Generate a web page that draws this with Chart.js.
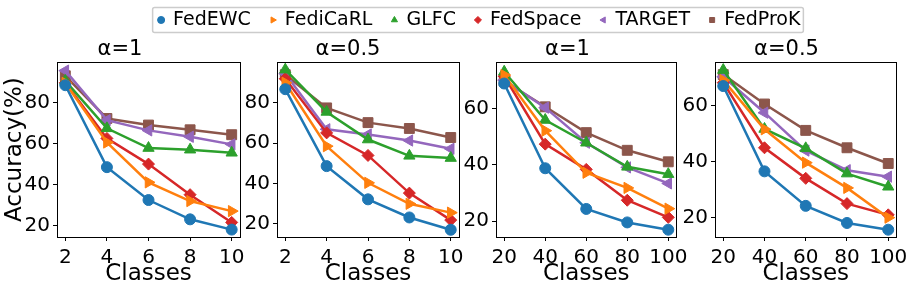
<!DOCTYPE html>
<html>
<head>
<meta charset="utf-8">
<script src="https://cdn.jsdelivr.net/npm/chart.js@4.4.1/dist/chart.umd.min.js"></script>
<style>
  body { margin: 0; background: #fff; width: 913px; height: 289px; position: relative; overflow: hidden; }
  canvas { position: absolute; }
</style>
</head>
<body>
<canvas id="legend"></canvas>
<canvas id="c1"></canvas>
<canvas id="c2"></canvas>
<canvas id="c3"></canvas>
<canvas id="c4"></canvas>
<script>
const methods = ['FedEWC', 'FediCaRL', 'GLFC', 'FedSpace', 'TARGET', 'FedProK'];
const colors = ['#1f77b4', '#ff7f0e', '#2ca02c', '#d62728', '#9467bd', '#8c564b'];
const markers = ['circle', 'triangle', 'triangle', 'rectRot', 'triangle', 'rect'];
const markerRotation = [0, 90, 0, 0, -90, 0];
const markerRadius = [5.5, 6.5, 6.5, 6, 6.5, 7];

const classes10 = [2, 4, 6, 8, 10];
const classes100 = [20, 40, 60, 80, 100];
const yTicks4 = [20, 40, 60, 80];
const yTicks3 = [20, 40, 60];
const titles = ['α=1', 'α=0.5', 'α=1', 'α=0.5'];

// panel 1: alpha=1, 10 classes
const ewc1 = [88.4, 48.5, 32.5, 23.1, 18.1];
const icarl1 = [89.5, 60.5, 41.1, 32.0, 27.1];
const glfc1 = [90.5, 67.4, 57.8, 57.0, 55.5];
const space1 = [89.6, 62.5, 50.0, 35.1, 21.6];
const target1 = [95.5, 71.4, 66.4, 63.3, 59.6];
const prok1 = [93.0, 72.2, 69.0, 66.7, 64.3];

// panel 2: alpha=0.5, 10 classes
const ewc2 = [86.8, 48.6, 32.1, 23.1, 17.0];
const icarl2 = [90.0, 58.5, 40.3, 29.9, 25.5];
const glfc2 = [96.5, 75.5, 61.8, 53.7, 52.6];
const space2 = [92.0, 65.1, 53.9, 35.2, 21.8];
const target2 = [94.5, 66.9, 64.3, 61.3, 57.2];
const prok2 = [94.0, 77.5, 70.2, 67.3, 62.8];

// panel 3: alpha=1, 100 classes
const ewc3 = [69.0, 38.8, 24.3, 19.5, 16.9];
const icarl3 = [72.0, 52.2, 37.2, 31.8, 24.4];
const glfc3 = [73.2, 56.0, 47.9, 39.3, 36.7];
const space3 = [71.6, 47.4, 38.4, 27.4, 21.3];
const target3 = [70.2, 60.4, 47.9, 39.1, 33.4];
const prok3 = [69.9, 60.7, 51.5, 45.2, 41.1];

// panel 4: alpha=0.5, 100 classes
const ewc4 = [66.9, 36.5, 24.2, 18.1, 15.7];
const icarl4 = [69.0, 51.5, 39.6, 30.6, 20.0];
const glfc4 = [72.6, 51.6, 44.7, 35.7, 31.0];
const space4 = [68.1, 44.9, 34.0, 25.0, 21.0];
const target4 = [70.2, 57.4, 43.9, 36.9, 34.6];
const prok4 = [71.0, 60.5, 51.1, 44.9, 39.3];

const FONT = 'DejaVu Sans';

const frame = {
    id: 'frame',
    afterDraw(chart) {
        const { ctx, chartArea: a } = chart;
        ctx.save();
        ctx.strokeStyle = '#000';
        ctx.lineWidth = 1;
        ctx.strokeRect(Math.round(a.left) + 0.5, Math.round(a.top) + 0.5,
            Math.round(a.right - a.left), Math.round(a.bottom - a.top));
        ctx.restore();
    }
};

function makePanel(id, p) {
    const canvas = document.getElementById(id);
    canvas.width = p.width;
    canvas.height = 259;
    canvas.style.left = p.left + 'px';
    canvas.style.top = '30px';

    new Chart(canvas, {
        type: 'line',
        data: {
            datasets: methods.map((m, i) => ({
                label: m,
                data: p.xs.map((x, j) => ({ x, y: p.series[i][j] })),
                borderColor: colors[i],
                backgroundColor: colors[i],
                borderWidth: 2.5,
                pointStyle: markers[i],
                pointRotation: markerRotation[i],
                pointRadius: markerRadius[i],
                pointBorderWidth: 1,
                pointBorderColor: colors[i],
                pointBackgroundColor: colors[i],
                tension: 0,
                clip: false,
            })),
        },
        options: {
            responsive: false,
            animation: false,
            events: [],
            layout: { padding: { left: 0, right: p.padRight, top: 0, bottom: 0 } },
            plugins: {
                legend: { display: false },
                tooltip: { enabled: false },
                title: {
                    display: true, text: p.title, color: '#000',
                    font: { family: FONT, size: 21, weight: 'normal' },
                    padding: { top: 7, bottom: 0 },
                },
            },
            scales: {
                x: {
                    type: 'linear', min: p.xMin, max: p.xMax,
                    afterBuildTicks: s => { s.ticks = p.xs.map(v => ({ value: v })); },
                    afterFit: s => { s.height = 52; },
                    ticks: { color: '#000', font: { family: FONT, size: 20 }, padding: 5, autoSkip: false, maxRotation: 0 },
                    grid: { drawOnChartArea: false, drawTicks: true, tickLength: 4, color: '#000' },
                    border: { display: false },
                    title: { display: true, text: 'Classes', color: '#000', font: { family: FONT, size: 23 }, padding: { top: 0, bottom: 1 } },
                },
                y: {
                    min: p.yMin, max: p.yMax,
                    afterBuildTicks: s => { s.ticks = p.yTicks.map(v => ({ value: v })); },
                    afterFit: s => { s.width = p.yW; },
                    ticks: { color: '#000', font: { family: FONT, size: 20 }, padding: 3, autoSkip: false },
                    grid: { drawOnChartArea: false, drawTicks: true, tickLength: 4, color: '#000' },
                    border: { display: false },
                    title: { display: p.yLabel, text: 'Accuracy(%)', color: '#000', font: { family: FONT, size: 23 }, padding: { top: 1, bottom: 0 } },
                },
            },
        },
        plugins: [frame],
    });
}

makePanel('c1', { left: 0, width: 254, yW: 57, padRight: 14, title: titles[0], yLabel: true,
    xs: classes10, xMin: 1.6, xMax: 10.4, yMin: 14.5, yMax: 99.6, yTicks: yTicks4,
    series: [ewc1, icarl1, glfc1, space1, target1, prok1] });
makePanel('c2', { left: 237, width: 236, yW: 40, padRight: 14, title: titles[1], yLabel: false,
    xs: classes10, xMin: 1.6, xMax: 10.4, yMin: 13.4, yMax: 100.2, yTicks: yTicks4,
    series: [ewc2, icarl2, glfc2, space2, target2, prok2] });
makePanel('c3', { left: 456, width: 237, yW: 40, padRight: 14, title: titles[2], yLabel: false,
    xs: classes100, xMin: 16, xMax: 104, yMin: 14.3, yMax: 76.6, yTicks: yTicks3,
    series: [ewc3, icarl3, glfc3, space3, target3, prok3] });
makePanel('c4', { left: 675, width: 238, yW: 40, padRight: 15, title: titles[3], yLabel: false,
    xs: classes100, xMin: 16, xMax: 104, yMin: 13.1, yMax: 75.4, yTicks: yTicks3,
    series: [ewc4, icarl4, glfc4, space4, target4, prok4] });

// shared legend across the top, drawn by its own chart
const legendFrame = {
    id: 'legendFrame',
    afterDraw(chart) {
        const boxes = chart.legend.legendHitBoxes;
        if (!boxes.length) return;
        const left = Math.min(...boxes.map(b => b.left)) - 6;
        const right = Math.max(...boxes.map(b => b.left + b.width)) + 3;
        const top = boxes[0].top - 3;
        const bottom = boxes[0].top + boxes[0].height + 3;
        const ctx = chart.ctx;
        ctx.save();
        ctx.strokeStyle = '#cccccc';
        ctx.lineWidth = 1.5;
        ctx.beginPath();
        ctx.roundRect(left, top, right - left, bottom - top, 2);
        ctx.stroke();
        ctx.restore();
    }
};

const lc = document.getElementById('legend');
lc.width = 869;
lc.height = 120;
lc.style.left = '45px';
lc.style.top = '-9px';
new Chart(lc, {
    type: 'line',
    data: {
        datasets: methods.map((m, i) => ({
            label: m, data: [],
            borderColor: colors[i], backgroundColor: colors[i],
            pointStyle: markers[i], pointRotation: markerRotation[i],
        })),
    },
    options: {
        responsive: false, animation: false, events: [],
        scales: { x: { display: false }, y: { display: false } },
        plugins: {
            tooltip: { enabled: false },
            legend: {
                display: true, position: 'top',
                labels: { usePointStyle: true, boxWidth: 5, boxHeight: 5, padding: 19.5, color: '#000',
                    font: { family: FONT, size: 19 } },
            },
        },
    },
    plugins: [legendFrame],
});
</script>
</body>
</html>
